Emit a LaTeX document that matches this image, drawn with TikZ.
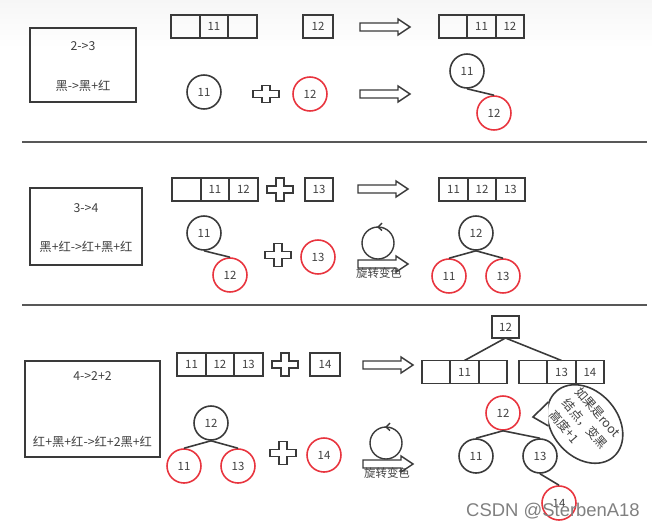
\documentclass[tikz,border=0pt]{standalone}
\usepackage{fontspec}
\setmainfont{Noto Sans CJK SC}
\newfontfamily\markfont{Liberation Sans}
\usepackage{tikz}
\usepackage{xcolor}
\usetikzlibrary{
    arrows,
    shapes,
    positioning
}
\definecolor{inkgray}{HTML}{3A3A3A}
\definecolor{rbred}{HTML}{E8343E}
\definecolor{txtgray}{HTML}{404040}

% hollow block arrow centred at (#1,#2)
\newcommand{\fatarrow}[2]{\draw[draw=inkgray, line width=0.8pt, fill=white] (#1-25,#2-4) -- (#1+13,#2-4) -- (#1+13,#2-8) -- (#1+25,#2) -- (#1+13,#2+8) -- (#1+13,#2+4) -- (#1-25,#2+4) -- cycle;}
% outlined plus sign centred at (#1,#2), half height #3
\newcommand{\plussign}[3]{\draw[draw=inkgray, line width=0.8pt, fill=white] (#1-4,#2-#3) -- (#1+4,#2-#3) -- (#1+4,#2-3.5) -- (#1+13,#2-3.5) -- (#1+13,#2+3.5) -- (#1+4,#2+3.5) -- (#1+4,#2+#3) -- (#1-4,#2+#3) -- (#1-4,#2+3.5) -- (#1-13,#2+3.5) -- (#1-13,#2-3.5) -- (#1-4,#2-3.5) -- cycle;}
% rotation mark centred at (#1,#2)
\newcommand{\rotmark}[2]{\draw[draw=inkgray, line width=0.8pt] (#1,#2) circle (16);
  \draw[draw=inkgray, line width=0.8pt] (#1+4,#2-20) -- (#1,#2-16) -- (#1+4,#2-12.5);}

\begin{document}
\begin{tikzpicture}[x=0.02cm, y=-0.02cm, font=\fontsize{6.5}{8}\selectfont, text=txtgray,
    cell/.style={draw=inkgray, line width=0.9pt, rectangle, minimum width=0.57cm, minimum height=0.46cm, inner sep=0pt, outer sep=0pt},
    bnode/.style={draw=inkgray, line width=0.9pt, circle, minimum size=0.68cm, inner sep=0pt},
    rnode/.style={draw=rbred, line width=0.9pt, circle, minimum size=0.68cm, inner sep=0pt},
    casebox/.style={draw=inkgray, line width=1pt, rectangle, inner sep=0pt},
    casetext/.style={font=\fontsize{7}{8}\selectfont},
    link/.style={draw=inkgray, line width=0.9pt},
    sepline/.style={draw=inkgray!85, line width=1.2pt}]
            \useasboundingbox (0,0) rectangle (652,528);
            \shade[top color=gray!7, bottom color=white] (0,0) rectangle (652,48);

            % 2->3
            \node[casebox, minimum width=2.12cm, minimum height=1.48cm] (case1) at (83,65) {};
            \node[casetext] at (83,46) {2->3};
            \node[casetext] at (83,86) {黑->黑+红};

            \node[cell] (arr1a) at (185.5,26.5) {};
            \node[cell, right=0pt of arr1a] (arr1b) {11};
            \node[cell, right=0pt of arr1b] (arr1c) {};
            \node[cell, minimum width=0.6cm] (key12) at (318,26.5) {12};
            \fatarrow{385}{27}
            \node[cell] (res1a) at (453,26.5) {};
            \node[cell, right=0pt of res1a] (res1b) {11};
            \node[cell, right=0pt of res1b] (res1c) {12};

            \node[bnode] (c1n11) at (204,92) {11};
            \plussign{266}{94}{8.5}
            \node[rnode] (c1n12) at (310,94) {12};
            \fatarrow{385}{94}
            \node[bnode] (t1n11) at (467,71) {11};
            \node[rnode] (t1n12) at (494,113) {12};
            \draw[link] (t1n11.south) -- (t1n12.north);

            \draw[sepline] (22,142) -- (647,142);

            % 3->4
            \node[casebox, minimum width=2.24cm, minimum height=1.54cm] (case2) at (86,226.5) {};
            \node[casetext] at (86,208) {3->4};
            \node[casetext] at (86,247) {黑+红->红+黑+红};

            \node[cell] (arr2a) at (186.5,189.5) {};
            \node[cell, right=0pt of arr2a] (arr2b) {11};
            \node[cell, right=0pt of arr2b] (arr2c) {12};
            \plussign{280}{189.5}{11.5}
            \node[cell] (key13) at (319,189.5) {13};
            \fatarrow{383}{189}
            \node[cell] (res2a) at (453.5,189.5) {11};
            \node[cell, right=0pt of res2a] (res2b) {12};
            \node[cell, right=0pt of res2b] (res2c) {13};

            \node[bnode] (c2n11) at (204,233) {11};
            \node[rnode] (c2n12) at (230,275) {12};
            \draw[link] (c2n11.south) -- (c2n12.north);
            \plussign{278}{255}{11.5}
            \node[rnode] (c2n13) at (318,257) {13};
            \rotmark{378}{243}
            \fatarrow{383}{264}
            \node at (379,273) {旋转变色};
            \node[bnode] (t2n12) at (476,233) {12};
            \node[rnode] (t2n11) at (449,276) {11};
            \node[rnode] (t2n13) at (503,276) {13};
            \draw[link] (t2n12.south) -- (t2n11.north);
            \draw[link] (t2n12.south) -- (t2n13.north);

            \draw[sepline] (22,305) -- (647,305);

            % 4->2+2
            \node[casebox, minimum width=2.7cm, minimum height=1.92cm] (case3) at (92.5,409) {};
            \node[casetext] at (92.5,376) {4->2+2};
            \node[casetext] at (92.5,442) {红+黑+红->红+2黑+红};

            \node[cell] (arr3a) at (191.5,364.5) {11};
            \node[cell, right=0pt of arr3a] (arr3b) {12};
            \node[cell, right=0pt of arr3b] (arr3c) {13};
            \plussign{285}{364.5}{11.5}
            \node[cell, minimum width=0.6cm] (key14) at (325,364.5) {14};
            \fatarrow{388}{365}

            \node[cell, minimum width=0.54cm, minimum height=0.44cm] (top12) at (505.5,327) {12};
            \node[cell] (lft3a) at (436,372) {};
            \node[cell, right=0pt of lft3a] (lft3b) {11};
            \node[cell, right=0pt of lft3b] (lft3c) {};
            \node[cell] (rgt3a) at (533,372) {};
            \node[cell, right=0pt of rgt3a] (rgt3b) {13};
            \node[cell, right=0pt of rgt3b] (rgt3c) {14};
            \draw[link] (top12.south) -- (lft3b.north);
            \draw[link] (top12.south) -- (rgt3b.north);

            \node[bnode] (c3n12) at (211,423) {12};
            \node[rnode] (c3n11) at (184,466) {11};
            \node[rnode] (c3n13) at (238,466) {13};
            \draw[link] (c3n12.south) -- (c3n11.north);
            \draw[link] (c3n12.south) -- (c3n13.north);
            \plussign{283}{453}{11.5}
            \node[rnode] (c3n14) at (324,455) {14};
            \rotmark{386}{443}
            \fatarrow{388}{464}
            \node at (387,473) {旋转变色};

            \node[rnode] (t3n12) at (503,413) {12};
            \node[bnode] (t3n11) at (476,456) {11};
            \node[bnode] (t3n13) at (540,456) {13};
            \node[rnode] (t3n14) at (559,503) {14};
            \draw[link] (t3n12.south) -- (t3n11.north);
            \draw[link] (t3n12.south) -- (t3n13.north);
            \draw[link] (t3n13.south) -- (t3n14.north);

            % speech bubble
            \node[draw=inkgray, line width=0.9pt, ellipse, fill=white, rotate=-49, align=left, inner sep=0pt, minimum width=1.7cm, font=\fontsize{7}{10}\selectfont] (bubble) at (585,424) {如果是root\\结点，变黑\\高度+1};
            \coordinate (tail) at (533,417);
            \fill[white] (bubble.198) -- (tail) -- (bubble.232) -- cycle;
            \draw[link] (bubble.198) -- (tail) -- (bubble.232);

            \node[text=black!50, font=\markfont\fontsize{10.5}{12}\selectfont] at (553,511) {CSDN @SterbenA18};
        \end{tikzpicture}
\end{document}
